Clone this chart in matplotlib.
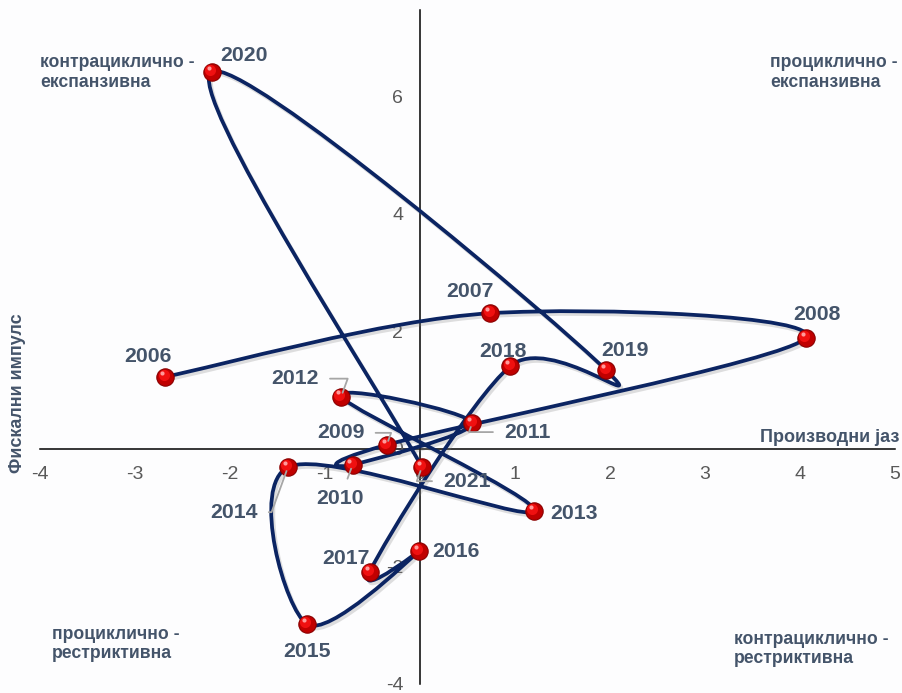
import numpy as np
import matplotlib
matplotlib.use("Agg")
import matplotlib.pyplot as plt
import matplotlib.patheffects as pe
from matplotlib.path import Path
from matplotlib.patches import PathPatch
from matplotlib.transforms import offset_copy

plt.rcParams['font.family'] = ['Liberation Sans', 'DejaVu Sans']

# ---- data ----
years = [2006, 2007, 2008, 2009, 2010, 2011, 2012, 2013,
         2014, 2015, 2016, 2017, 2018, 2019, 2020, 2021]
output_gap = [-2.68, 0.74, 4.06, -0.35, -0.71, 0.55, -0.83, 1.20,
              -1.39, -1.19, -0.01, -0.53, 0.95, 1.96, -2.19, 0.02]
fiscal_impulse = [1.23, 2.31, 1.89, 0.07, -0.27, 0.44, 0.89, -1.06,
                  -0.31, -2.98, -1.74, -2.09, 1.41, 1.34, 6.42, -0.31]
x_ticks = [-4, -3, -2, -1, 0, 1, 2, 3, 4, 5]
y_ticks = [-4, -2, 0, 2, 4, 6]

# label offsets (pixels) and whether a leader line is drawn
label_off = [(-17, 20), (-20, 22), (11, 23), (-46, 12), (-13, -34), (55, -9),
             (-46, 18), (40, -2), (-54, -45), (0, -27), (37, 0), (-24, 13),
             (-7, 15), (19, 20), (32, 16), (45, -14)]
leader = [False, False, False, True, True, True, True, False,
          True, False, False, False, False, False, False, True]

navy = '#0B2462'
txt = '#44546A'
bg = '#FDFDFE'

fig = plt.figure(figsize=(9.02, 6.93), dpi=100, facecolor=bg)
ax = fig.add_axes([40/902, 9/693, 855/902, 674/693], facecolor=bg)
ax.set_xlim(-4, 5)
ax.set_ylim(-4, 7.47)

for s in ['top', 'right']:
    ax.spines[s].set_visible(False)
ax.spines['left'].set_position(('data', 0))
ax.spines['bottom'].set_position(('data', 0))
for s in ['left', 'bottom']:
    ax.spines[s].set_linewidth(1.1)
    ax.spines[s].set_color('black')
    ax.spines[s].set_zorder(1)

ax.set_xticks(x_ticks)
ax.set_yticks(y_ticks)
ax.set_xticklabels([str(v) for v in x_ticks])
ax.set_yticklabels([str(v) for v in y_ticks])
ax.tick_params(axis='both', length=0, labelsize=14, labelcolor='#595959')
ax.tick_params(axis='x', pad=12)
ax.tick_params(axis='y', pad=12)

# smoothed line (Catmull-Rom as cubic Bezier)
pts = np.column_stack([output_gap, fiscal_impulse])
ext = np.vstack([pts[0], pts, pts[-1]])
verts = [pts[0]]
codes = [Path.MOVETO]
for i in range(len(pts) - 1):
    p0, p1, p2, p3 = ext[i], ext[i + 1], ext[i + 2], ext[i + 3]
    verts += [p1 + (p2 - p0) / 6, p2 - (p3 - p1) / 6, p2]
    codes += [Path.CURVE4] * 3
patch = PathPatch(Path(verts, codes), facecolor='none', edgecolor=navy,
                  lw=2.7, zorder=3, capstyle='round', joinstyle='round')
patch.set_path_effects([pe.SimpleLineShadow(offset=(1.5, -2), shadow_color='gray', alpha=0.25),
                        pe.Normal()])
ax.add_patch(patch)

# spherical markers
ax.plot(output_gap, fiscal_impulse, 'o', ms=12.5, mfc='#C00000', mec='#8A0000',
        mew=0.8, zorder=4, ls='none')
hl = offset_copy(ax.transData, fig=fig, x=-1.2, y=1.4, units='points')
ax.plot(output_gap, fiscal_impulse, 'o', ms=8, mfc='#F01010', mec='none',
        zorder=5, ls='none', transform=hl)
hl2 = offset_copy(ax.transData, fig=fig, x=-2.2, y=3.0, units='points')
ax.plot(output_gap, fiscal_impulse, 'o', ms=3, mfc='#FF9A9A', mec='none',
        zorder=6, ls='none', transform=hl2)

# year labels
for yr, xv, yv, off, ld in zip(years, output_gap, fiscal_impulse, label_off, leader):
    ap = None
    if ld:
        ap = dict(arrowstyle='-', color='#A6A6A6', lw=1.3, shrinkA=6, shrinkB=3,
                  connectionstyle='angle,angleA=0,angleB=70,rad=0')
    ax.annotate(str(yr), (xv, yv), xytext=off, textcoords='offset pixels',
                ha='center', va='center', fontsize=15.3, fontweight='bold',
                color=txt, arrowprops=ap, zorder=7)

# quadrant labels
qkw = dict(fontsize=12.7, fontweight='bold', color=txt, ha='left', va='center',
           linespacing=1.2, transform=fig.transFigure)
fig.text(40/902, 1 - 72.5/693, 'контрациклично -\nекспанзивна', **qkw)
fig.text(770/902, 1 - 72.5/693, 'проциклично -\nекспанзивна', **qkw)
fig.text(52/902, 1 - 644/693, 'проциклично -\nрестриктивна', **qkw)
fig.text(734/902, 1 - 649/693, 'контрациклично -\nрестриктивна', **qkw)

# axis titles
fig.text(899/902, 1 - 438/693, 'Производни јаз', fontsize=13, fontweight='bold',
         color=txt, ha='right', va='center')
fig.text(18/902, 1 - 393/693, 'Фискални импулс', fontsize=13, fontweight='bold',
         color=txt, ha='center', va='center', rotation=90)

fig.savefig('out.png', dpi=100, facecolor=bg)
